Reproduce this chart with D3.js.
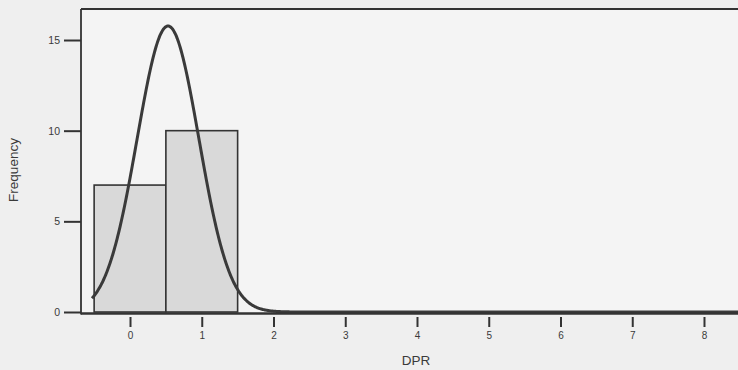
<!DOCTYPE html>
<html>
<head>
<meta charset="utf-8">
<script src="https://cdn.jsdelivr.net/npm/d3@7"></script>
<style>
  html, body { margin: 0; padding: 0; background: #efefef; }
  svg { display: block; }
  text { font-family: "Liberation Sans", Arial, sans-serif; fill: #3a3a3a; }
</style>
</head>
<body>
<svg id="chart" width="738" height="370"></svg>
<script>
// Histogram of DPR with fitted normal curve
const binStarts = [-0.5, 0.5];
const binWidth = 1;
const frequencies = [7, 10];

// Normal curve parameters (mean, standard deviation, N)
const curveMean = 0.53;
const curveSD = 0.43;
const sampleN = 17;

const xTicks = [0, 1, 2, 3, 4, 5, 6, 7, 8];
const yTicks = [0, 5, 10, 15];

const svg = d3.select("#chart");

const plotLeft = 81, plotRight = 742, plotTop = 9, plotBottom = 312;

const x = d3.scaleLinear().domain([-0.683, 8.474]).range([81, 738]);
const y = d3.scaleLinear().domain([0, 16.71]).range([plotBottom, plotTop]);

// plot background
svg.append("rect")
  .attr("x", plotLeft).attr("y", plotTop)
  .attr("width", plotRight - plotLeft).attr("height", plotBottom - plotTop + 2)
  .attr("fill", "#f4f4f4");

// bars
svg.append("g").selectAll("rect")
  .data(frequencies)
  .join("rect")
  .attr("x", (d, i) => x(binStarts[i]))
  .attr("width", (d, i) => x(binStarts[i] + binWidth) - x(binStarts[i]))
  .attr("y", d => y(d))
  .attr("height", d => y(0) - y(d))
  .attr("fill", "#d9d9d9")
  .attr("stroke", "#333")
  .attr("stroke-width", 1.6);

// normal curve scaled to frequency
const density = v => sampleN * binWidth / (curveSD * Math.sqrt(2 * Math.PI)) *
  Math.exp(-0.5 * Math.pow((v - curveMean) / curveSD, 2));
const curvePts = d3.range(-0.53, 8.5, 0.01).map(v => [v, density(v)]);
svg.append("path")
  .datum(curvePts)
  .attr("fill", "none")
  .attr("stroke", "#3a3a3a")
  .attr("stroke-width", 3)
  .attr("stroke-linejoin", "round")
  .attr("d", d3.line().x(d => x(d[0])).y(d => y(d[1])).curve(d3.curveMonotoneX));

// frame: top, left, bottom
const frame = svg.append("g").attr("stroke", "#333").attr("fill", "none");
frame.append("line").attr("x1", plotLeft).attr("x2", plotRight)
  .attr("y1", plotTop).attr("y2", plotTop).attr("stroke-width", 1.8);
frame.append("line").attr("x1", plotLeft).attr("x2", plotLeft)
  .attr("y1", plotTop).attr("y2", plotBottom + 2.5).attr("stroke-width", 1.8);
frame.append("line").attr("x1", plotLeft).attr("x2", plotRight)
  .attr("y1", plotBottom + 1.5).attr("y2", plotBottom + 1.5).attr("stroke-width", 2.4);

// y axis
const yAxis = d3.axisLeft(y).tickValues(yTicks).tickSize(17).tickPadding(4);
const gy = svg.append("g").attr("transform", `translate(${plotLeft},0)`).call(yAxis);
gy.select(".domain").remove();
gy.selectAll(".tick line").attr("stroke", "#333").attr("stroke-width", 2);
gy.selectAll(".tick text").attr("font-size", 10.5).attr("fill", "#333")
  .attr("font-family", "'Liberation Sans', Arial, sans-serif");

// x axis
const xAxis = d3.axisBottom(x).tickValues(xTicks).tickSize(10).tickPadding(5);
const gx = svg.append("g").attr("transform", `translate(0,${plotBottom + 5})`).call(xAxis);
gx.select(".domain").remove();
gx.selectAll(".tick line").attr("stroke", "#333").attr("stroke-width", 2);
gx.selectAll(".tick text").attr("font-size", 10).attr("fill", "#333")
  .attr("font-family", "'Liberation Sans', Arial, sans-serif");

// axis titles
svg.append("text")
  .attr("x", 416).attr("y", 365)
  .attr("text-anchor", "middle")
  .attr("font-size", 13.5)
  .text("DPR");

svg.append("text")
  .attr("transform", "translate(18,170) rotate(-90)")
  .attr("text-anchor", "middle")
  .attr("font-size", 13.5)
  .text("Frequency");
</script>
</body>
</html>
